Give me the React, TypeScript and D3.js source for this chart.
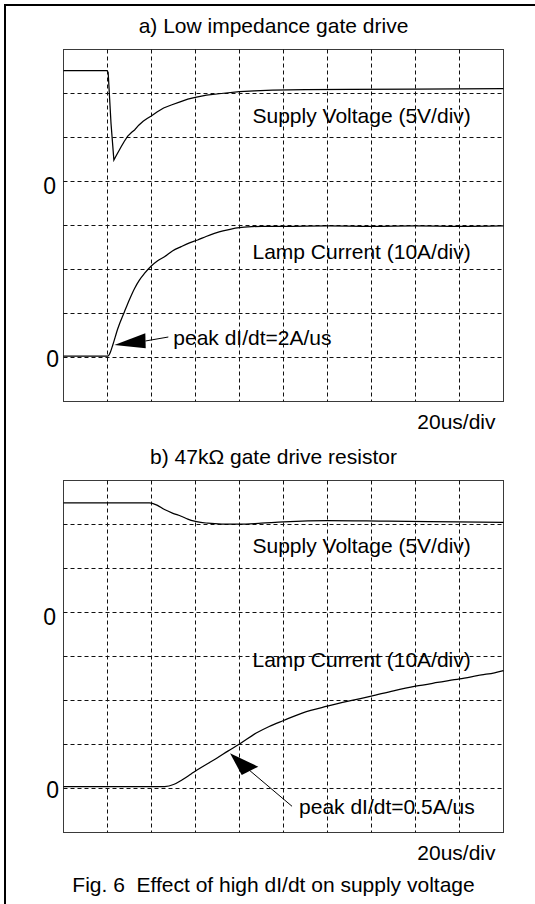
import React from 'react';
import * as d3 from 'd3';

// time axis: 20 us/div, 10 divisions
const timeGrid = [20, 40, 60, 80, 100, 120, 140, 160, 180];
const divGrid = [1, 2, 3, 4, 5, 6, 7];

// a) Low impedance gate drive
const aVoltT = [0, 10, 19.8, 20.3, 21.6, 22.9, 24.0, 25.2, 26.2, 27.6, 29.2, 31.0, 32.3, 34.2, 36.2, 38.0, 39.9, 42.5, 45.5, 49.0, 53.0, 56.5, 59.9, 65.0, 71.7, 80.0, 86.8, 95, 110, 130, 160, 200];
const aVoltV = [12.6, 12.6, 12.6, 12.4, 6.6, 2.44, 2.95, 3.5, 3.95, 4.55, 5.15, 5.6, 5.85, 6.4, 6.85, 7.15, 7.44, 7.9, 8.35, 8.69, 9.05, 9.35, 9.57, 9.82, 10.0, 10.2, 10.3, 10.38, 10.45, 10.48, 10.5, 10.55];
const aCurT = [0, 10, 20.1, 21.3, 22.4, 24.7, 27.7, 30.0, 32.3, 34.5, 36.8, 39.9, 42.8, 45.9, 49.5, 53.5, 57.0, 61.0, 64.8, 68.6, 72.5, 76.2, 80, 83.8, 90, 100, 120, 140, 160, 180, 200];
const aCurI = [0.3, 0.3, 0.3, 1.2, 2.84, 6.6, 10.4, 13.2, 15.7, 17.6, 19.1, 20.8, 22.0, 22.9, 24.2, 25.2, 26.0, 26.7, 27.5, 28.2, 28.8, 29.2, 29.5, 29.7, 29.8, 29.8, 29.9, 29.8, 29.9, 29.8, 29.9];

// b) 47k gate drive resistor
const bVoltT = [0, 20, 39.1, 42.5, 45.9, 49.5, 53.5, 56.5, 59.5, 65.6, 72, 80, 89.9, 100, 120, 147.4, 179, 200];
const bVoltV = [12.47, 12.47, 12.47, 12.2, 11.7, 11.3, 10.94, 10.62, 10.38, 10.15, 10.05, 10.03, 10.15, 10.3, 10.45, 10.38, 10.31, 10.25];
const bCurT = [0, 20, 40, 46, 50, 54, 58, 62, 66, 70, 74.7, 80, 87.6, 93.5, 100, 108.8, 119.9, 130, 139.9, 150, 160, 170, 180, 190, 195.9, 200];
const bCurI = [0.4, 0.4, 0.4, 0.45, 0.9, 2.0, 3.3, 4.6, 5.8, 7.0, 8.5, 10.1, 12.6, 14.1, 15.45, 17.2, 18.7, 19.9, 21.0, 22.2, 23.25, 24.1, 24.9, 25.8, 26.3, 26.8];

const FONT = '"Liberation Sans", Arial, Helvetica, sans-serif';

const panels = [
  {
    top: 49.5,
    title: 'a) Low impedance gate drive',
    voltT: aVoltT, voltV: aVoltV, curT: aCurT, curI: aCurI,
    voltLabelDy: 73, curLabelDy: 209.8,
    arrow: { t: 23.1, i: 2.84, kind: 'left', text: 'peak dI/dt=2A/us' },
  },
  {
    top: 480.5,
    title: 'b) 47k\u03A9 gate drive resistor',
    voltT: bVoltT, voltV: bVoltV, curT: bCurT, curI: bCurI,
    voltLabelDy: 72.8, curLabelDy: 186.8,
    arrow: { t: 75.7, i: 8.0, kind: 'down', text: 'peak dI/dt=0.5A/us' },
  },
];

const LEFT = 63.5;
const PW = 440;
const PH = 352;

function Panel({ p }: { p: typeof panels[number] }) {
  const x = d3.scaleLinear().domain([0, 200]).range([LEFT, LEFT + PW]);
  const div = d3.scaleLinear().domain([0, 8]).range([p.top + PH, p.top]);
  // supply voltage: 0 V at 5 div from bottom, 5 V/div
  const yV = d3.scaleLinear().domain([-25, 15]).range([p.top + PH, p.top]);
  // lamp current: 0 A at 1 div from bottom, 10 A/div
  const yI = d3.scaleLinear().domain([-10, 70]).range([p.top + PH, p.top]);

  const voltLine = d3.line<number>()
    .x((_, k) => x(p.voltT[k]))
    .y((v) => yV(v))
    .curve(p.arrow.kind === 'left' ? d3.curveLinear : d3.curveMonotoneX);
  const curLine = d3.line<number>()
    .x((_, k) => x(p.curT[k]))
    .y((v) => yI(v))
    .curve(d3.curveMonotoneX);

  const tipX = x(p.arrow.t);
  const tipY = yI(p.arrow.i);
  let arrowEls: React.ReactNode;
  if (p.arrow.kind === 'left') {
    arrowEls = (
      <g>
        <polygon points={`${tipX},${tipY} ${tipX + 31},${tipY - 11.7} ${tipX + 31.4},${tipY + 3.3}`} fill="#000" />
        <line x1={tipX + 31} y1={tipY - 4} x2={tipX + 54} y2={tipY - 8} stroke="#000" strokeWidth={1} />
        <text x={tipX + 59} y={tipY} fontSize={21} fontFamily={FONT} fill="#000">{p.arrow.text}</text>
      </g>
    );
  } else {
    arrowEls = (
      <g>
        <polygon points={`${tipX},${tipY} ${tipX + 11.7},${tipY + 21.7} ${tipX + 28.3},${tipY + 13.4}`} fill="#000" />
        <line x1={tipX + 20} y1={tipY + 17.5} x2={tipX + 62} y2={tipY + 53} stroke="#000" strokeWidth={1} />
        <text x={tipX + 69} y={tipY + 60.5} fontSize={21} fontFamily={FONT} fill="#000">{p.arrow.text}</text>
      </g>
    );
  }

  return (
    <g>
      <text x={273.5} y={p.top - 17} textAnchor="middle" fontSize={21} fontFamily={FONT} fill="#000">{p.title}</text>
      <rect x={LEFT} y={p.top} width={PW} height={PH} fill="#fff" stroke="#3a3a3a" strokeWidth={1} />
      {timeGrid.map((t) => (
        <line key={'v' + t} x1={x(t)} x2={x(t)} y1={p.top} y2={p.top + PH} stroke="#111" strokeWidth={1} strokeDasharray="4,3" />
      ))}
      {divGrid.map((d) => (
        <line key={'h' + d} x1={LEFT} x2={LEFT + PW} y1={div(d)} y2={div(d)} stroke="#111" strokeWidth={1} strokeDasharray="4,3" />
      ))}
      <path d={voltLine(p.voltV) || ''} fill="none" stroke="#000" strokeWidth={1.25} />
      <path d={curLine(p.curI) || ''} fill="none" stroke="#000" strokeWidth={1.25} />
      <text x={56} y={p.top + 144} textAnchor="end" fontSize={23} fontFamily={FONT} fill="#000">0</text>
      <text x={59} y={p.top + 317.3} textAnchor="end" fontSize={23} fontFamily={FONT} fill="#000">0</text>
      <text x={252.5} y={p.top + p.voltLabelDy} fontSize={21} fontFamily={FONT} fill="#000">Supply Voltage (5V/div)</text>
      <text x={252.5} y={p.top + p.curLabelDy} fontSize={21} fontFamily={FONT} fill="#000">Lamp Current (10A/div)</text>
      {arrowEls}
      <text x={495.5} y={p.top + PH + 27} textAnchor="end" fontSize={21} fontFamily={FONT} fill="#000">20us/div</text>
    </g>
  );
}

export default function App() {
  return (
    <svg width={535} height={904} viewBox="0 0 535 904" style={{ position: 'absolute', left: 0, top: 0, background: '#fff' }}>
      <rect x={0} y={0} width={535} height={904} fill="#fff" />
      <line x1={4} y1={5} x2={535} y2={5} stroke="#000" strokeWidth={2} />
      <line x1={5} y1={4} x2={5} y2={904} stroke="#000" strokeWidth={2} />
      {panels.map((p, k) => <Panel key={k} p={p} />)}
      <text x={273.5} y={892} textAnchor="middle" fontSize={21} fontFamily={FONT} fill="#000" style={{ whiteSpace: 'pre' }} xmlSpace="preserve">Fig. 6  Effect of high dI/dt on supply voltage</text>
    </svg>
  );
}
